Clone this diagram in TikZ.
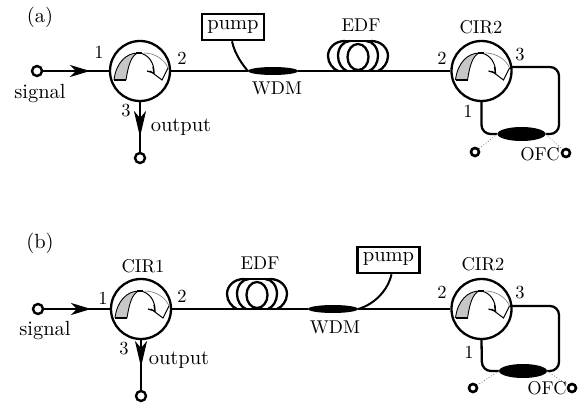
\documentclass[tikz,border=0pt]{standalone}
\usetikzlibrary{shapes.geometric,arrows.meta}
\newcommand{\circinner}[1]{%
  \begin{scope}[shift={(#1)}]
    \fill[black!22] (-26,9) -- (-14,9) .. controls (-12,-4) and (-9,-16) .. (-2,-18) .. controls (-14,-18) and (-24,-8) .. (-26,9) -- cycle;
    \draw[line width=1.5pt] (-26,9) -- (-14,9);
    \draw[line width=.9pt] (-14,9) .. controls (-12,-4) and (-9,-16) .. (-2,-18) .. controls (-14,-18) and (-24,-8) .. (-26,9);
    \draw[line width=1.8pt] (-4,-18) -- (2,-18);
    \draw[line width=1pt] (0,-18) .. controls (9,-16) and (14,-8) .. (14,1);
    \draw[line width=1.3pt] (7,0) -- (14,2) -- (13,-4);
    \draw[line width=.6pt,black!55] (4,-18) .. controls (15,-18) and (25,-11) .. (28,-3);
    \draw[line width=1pt] (28,-3) -- (22,9) -- (10,0);
  \end{scope}}
\newcommand{\coil}[1]{%
  \begin{scope}[shift={(#1)},line width=2.3pt]
    \draw (-13,-30) -- (13,-30);
    \draw (0,-14) ellipse (10.5 and 13);
    \foreach \s in {-1,1}{
      \draw (\s*13,-30) .. controls (\s*23,-30) and (\s*30,-23) .. (\s*30,-15) .. controls (\s*30,-8) and (\s*25,-2) .. (\s*20,0);
      \draw (\s*8,-30) .. controls (\s*15,-30) and (\s*20,-23) .. (\s*20,-15) .. controls (\s*20,-8) and (\s*16,-2) .. (\s*11,0);
    }
  \end{scope}}
\tikzset{
  fibre/.style={line width=2.3pt},
  loopfibre/.style={line width=2.3pt,rounded corners=9pt},
  tailfibre/.style={line width=.8pt,dotted,black!55},
  circulator/.style={circle,draw,line width=2.3pt,minimum size=60pt,inner sep=0pt},
  terminal/.style={circle,draw,line width=2.4pt,minimum size=10pt,inner sep=0pt},
  smallterm/.style={circle,draw,line width=2.6pt,minimum size=8pt,inner sep=0pt},
  coupler/.style={ellipse,fill=black,minimum width=50pt,minimum height=8pt,inner sep=0pt},
  ofcoupler/.style={ellipse,fill=black,minimum width=48pt,minimum height=14pt,inner sep=0pt},
  pumpbox/.style={draw,line width=2.6pt,minimum width=62pt,minimum height=26pt,inner sep=0pt},
  pumplabel/.style={inner sep=0pt,scale=2.05},
  lowlabel/.style={inner sep=0pt,scale=2.05},
  caplabel/.style={inner sep=0pt,scale=1.85},
  flow/.style={line width=2.3pt,-{Stealth[length=20pt,width=12pt,inset=6pt]}},
  outflow/.style={line width=2.3pt,-{Stealth[length=26pt,width=12pt,inset=7pt]}},
}
\begin{document}
\begin{tikzpicture}[x=1pt,y=-1pt]
\useasboundingbox (0,0) rectangle (587,404);
% ---------- panel (a)
\node[lowlabel] (la) at (40,17) {(a)};
\node[circulator] (a1) at (140,71) {};
\node[circulator] (a2) at (481.5,71) {};
\circinner{140,71}\circinner{481.5,71}
\node[terminal] (asig) at (37,71) {};
\node[terminal] (aout) at (140,158) {};
\coordinate (aflow) at (90,71);
\coordinate (aoflow) at (140,137);
\node[coupler] (awdm) at (273,71) {};
\node[pumpbox] (apump) at (233,27) {};
\node[pumplabel] (apumpt) at (233,27) {pump};
\coil{358,71}
\coordinate (aedf) at (358,71);
\node[ofcoupler] (aofc) at (521.5,134) {};
\coordinate (a2p3) at (511,67);
\coordinate (aup) at (559,67);
\coordinate (adn) at (559,134);
\coordinate (alow) at (481.5,134);
\node[smallterm] (at1) at (475,152) {};
\node[smallterm] (at2) at (566,153) {};
\draw[fibre] (asig) -- (a1.west);
\draw[flow] (asig) -- (aflow);
\draw[fibre] (a1.east) -- (awdm.west);
\draw[fibre] (awdm.east) -- (aedf) -- (a2.west);
\draw[fibre] (a1.south) -- (aout);
\draw[outflow] (a1.south) -- (aoflow);
\draw[line width=2pt] (apump.south) ++(-1,0) .. controls (235,55) and (243,65) .. (awdm.west);
\draw[loopfibre] (a2p3) -- (aup) -- (adn) -- (aofc.east);
\draw[loopfibre] (a2.south) -- (alow) -- (aofc.west);
\draw[tailfibre] (aofc.west) -- (at1);
\draw[tailfibre] (aofc.east) -- (at2);
\node[caplabel] at (99,52) {1};
\node[caplabel] at (182,58) {2};
\node[caplabel] at (126,111) {3};
\node[lowlabel] at (40,93) {signal};
\node[lowlabel] at (181,127) {output};
\node[caplabel] at (277,88) {WDM};
\node[caplabel] at (361,25) {EDF};
\node[caplabel] at (481,27) {CIR2};
\node[caplabel] at (442,58) {2};
\node[caplabel] at (520,55) {3};
\node[caplabel] at (468,111) {1};
\node[caplabel] at (540,154) {OFC};
% ---------- panel (b)
\node[lowlabel] (lb) at (40,243) {(b)};
\node[circulator] (b1) at (141,309) {};
\node[circulator] (b2) at (481.5,309) {};
\circinner{141,309}\circinner{481.5,309}
\node[terminal] (bsig) at (38,309) {};
\node[terminal] (bout) at (141,396) {};
\coordinate (bflow) at (91,309);
\coordinate (boflow) at (141,367);
\node[coupler] (bwdm) at (333,309) {};
\node[pumpbox] (bpump) at (388.5,260) {};
\node[pumplabel] (bpumpt) at (388.5,258.5) {pump};
\coil{257,309}
\coordinate (bedf) at (257,309);
\node[ofcoupler] (bofc) at (523,371) {};
\coordinate (b2p3) at (511,306);
\coordinate (bup) at (559,306);
\coordinate (bdn) at (559,371);
\coordinate (blow) at (482,371);
\node[smallterm] (bt1) at (473,388) {};
\node[smallterm] (bt2) at (572,388) {};
\draw[fibre] (bsig) -- (b1.west);
\draw[flow] (bsig) -- (bflow);
\draw[fibre] (b1.east) -- (bedf) -- (bwdm.west);
\draw[fibre] (bwdm.east) -- (b2.west);
\draw[fibre] (b1.south) -- (bout);
\draw[outflow] (b1.south) -- (boflow);
\draw[line width=2pt] (bpump.south) ++(3,0) .. controls (388,290) and (375,304) .. (bwdm.east);
\draw[loopfibre] (b2p3) -- (bup) -- (bdn) -- (bofc.east);
\draw[loopfibre] (b2.south) -- (blow) -- (bofc.west);
\draw[tailfibre] (bofc.west) -- (bt1);
\draw[tailfibre] (bofc.east) -- (bt2);
\node[caplabel] at (143,266) {CIR1};
\node[caplabel] at (103,298) {1};
\node[caplabel] at (182,296) {2};
\node[caplabel] at (124,349) {3};
\node[lowlabel] at (45,330) {signal};
\node[lowlabel] at (179,360) {output};
\node[caplabel] at (260,263) {EDF};
\node[caplabel] at (335,327) {WDM};
\node[caplabel] at (483,264) {CIR2};
\node[caplabel] at (442,292) {2};
\node[caplabel] at (520,293) {3};
\node[caplabel] at (469,352) {1};
\node[caplabel] at (547,388) {OFC};
\end{tikzpicture}
\end{document}
